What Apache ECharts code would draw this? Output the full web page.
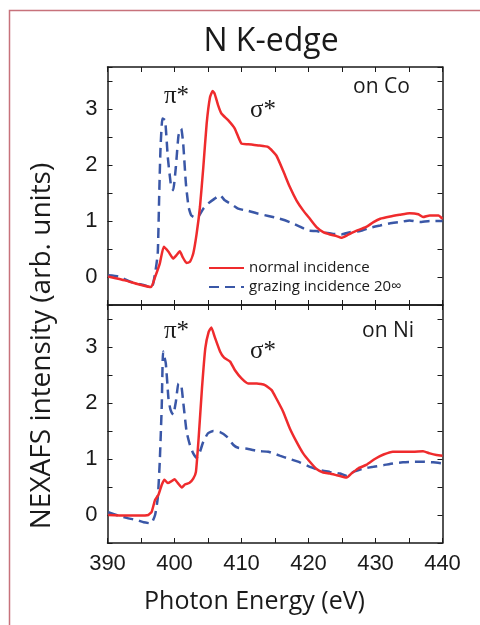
<!DOCTYPE html>
<html>
<head>
<meta charset="utf-8">
<script src="https://cdn.jsdelivr.net/npm/echarts@6/dist/echarts.min.js"></script>
<style>
html,body{margin:0;padding:0;background:#fff;}
#chart{width:480px;height:625px;}
</style>
</head>
<body>
<div id="chart"></div>
<script>
// ---- data ----
const xTicks = [390, 400, 410, 420, 430, 440];
const yTicks = [0, 1, 2, 3];

// on Co, normal incidence
const coNormalE = [390.1,392.6,394.6,396.5,397.1,397.8,398.4,399.1,399.8,400.3,400.8,401.2,401.8,402.3,402.8,403.3,403.8,404.3,404.8,405.3,405.7,406.0,406.5,407.0,408.0,409.0,410.0,411.0,412.5,414.0,415.2,416.2,417.2,418.2,419.2,420.2,421.2,422.2,423.2,424.2,424.9,425.7,426.7,427.7,428.7,429.7,430.7,432.2,433.6,435.1,436.4,437.1,438.1,439.4,440.0];
const coNormalI = [0.01,-0.06,-0.13,-0.18,0.0,0.24,0.54,0.45,0.33,0.39,0.46,0.36,0.25,0.27,0.42,0.77,1.25,1.96,2.74,3.21,3.32,3.27,3.07,2.92,2.80,2.65,2.38,2.37,2.35,2.32,2.17,1.90,1.61,1.37,1.19,1.04,0.89,0.80,0.76,0.73,0.70,0.74,0.80,0.85,0.90,0.98,1.04,1.08,1.11,1.14,1.12,1.07,1.10,1.10,1.04];
// on Co, grazing incidence
const coGrazE = [390.1,391.6,393.6,395.6,396.6,397.1,397.5,397.7,397.9,398.2,398.6,399.0,399.5,399.8,400.2,400.6,401.0,401.3,401.7,402.1,402.5,403.1,403.7,404.3,405.0,406.0,406.8,407.5,408.5,409.5,411.0,412.5,414.0,415.7,417.2,418.7,419.9,421.2,422.4,423.7,424.9,426.2,427.7,429.2,430.7,432.2,433.6,435.1,436.6,438.1,440.0];
const coGrazI = [0.03,0.01,-0.09,-0.15,-0.19,0.06,0.42,1.37,2.26,2.83,2.80,2.14,1.61,1.55,1.96,2.53,2.65,2.38,1.67,1.25,1.10,1.06,1.10,1.22,1.31,1.40,1.46,1.37,1.30,1.22,1.18,1.13,1.09,1.04,0.98,0.90,0.83,0.82,0.79,0.77,0.76,0.80,0.82,0.88,0.92,0.96,0.98,1.01,0.98,1.00,1.00];
// on Ni, normal incidence
const niNormalE = [390.1,392.6,394.6,396.1,396.6,397.1,397.6,398.1,398.5,399.0,399.5,400.0,400.5,401.1,401.6,402.2,402.8,403.2,403.6,404.1,404.6,405.1,405.5,406.0,406.8,407.4,408.3,409.0,410.0,411.0,412.3,413.5,414.5,415.2,416.2,417.2,418.2,419.2,420.2,421.2,422.2,423.2,424.2,425.2,425.7,426.4,427.4,428.7,429.9,431.2,432.6,434.1,435.6,437.1,438.1,439.1,440.0];
const niNormalI = [0.0,-0.01,-0.01,0.0,0.06,0.27,0.36,0.54,0.63,0.57,0.60,0.64,0.57,0.49,0.55,0.57,0.65,0.77,1.37,2.26,2.98,3.27,3.35,3.18,2.92,2.81,2.74,2.59,2.44,2.35,2.35,2.32,2.23,2.08,1.85,1.55,1.31,1.10,0.95,0.82,0.76,0.74,0.71,0.68,0.67,0.74,0.83,0.90,1.00,1.08,1.13,1.13,1.13,1.14,1.10,1.07,1.06];
// on Ni, grazing incidence
const niGrazE = [390.1,391.6,393.1,394.4,395.4,396.5,397.1,397.5,397.8,398.1,398.3,398.7,399.1,399.4,399.8,400.2,400.6,401.0,401.3,401.8,402.3,402.8,403.3,403.8,404.3,405.0,405.8,406.8,407.8,408.8,409.5,411.0,412.5,414.0,415.7,417.2,418.7,420.2,421.7,423.2,424.7,425.7,426.7,428.2,429.7,431.2,432.6,434.1,435.6,437.1,438.6,440.0];
const niGrazI = [0.05,-0.01,-0.06,-0.09,-0.13,-0.15,0.0,0.30,0.95,1.96,2.92,2.71,2.08,1.88,1.79,2.02,2.35,2.32,2.02,1.49,1.25,1.10,1.02,1.13,1.31,1.46,1.50,1.48,1.40,1.25,1.20,1.18,1.14,1.13,1.06,1.00,0.94,0.86,0.80,0.77,0.74,0.70,0.77,0.83,0.86,0.89,0.92,0.94,0.95,0.95,0.94,0.92];

const pairs = (e, v) => e.map((x, i) => [x, v[i]]);

const RED = '#ef2b2d';
const BLUE = '#3a57a7';
const INK = '#1a1a1a';
const SANS = '"Open Sans", "Noto Sans", sans-serif';
const DIGITS = '"Liberation Sans", Arial, sans-serif';
const SERIF = '"Liberation Serif", "DejaVu Serif", serif';

const chart = echarts.init(document.getElementById('chart'), null, {renderer: 'canvas'});

function xAx(grid, pos, labels) {
  return {
    type: 'value', gridIndex: grid, position: pos, min: 390, max: 440, interval: 5,
    axisLine: {show: true, onZero: false, lineStyle: {color: INK, width: 1.5}},
    axisTick: {show: true, inside: true, length: 5, lineStyle: {color: INK, width: 1}},
    axisLabel: {show: labels, margin: 10, color: INK, fontSize: 22, fontFamily: DIGITS,
      formatter: v => (xTicks.indexOf(v) >= 0 ? String(v) : '')},
    splitLine: {show: false}
  };
}
function yAx(grid, pos, labels) {
  return {
    type: 'value', gridIndex: grid, position: pos, min: -0.5, max: 3.75, interval: 0.5,
    axisLine: {show: true, onZero: false, lineStyle: {color: INK, width: 1.5}},
    axisTick: {show: true, inside: true, length: 5, lineStyle: {color: INK, width: 1}},
    axisLabel: {show: labels, margin: 10, color: INK, fontSize: 22, fontFamily: DIGITS,
      formatter: v => (yTicks.indexOf(v) >= 0 ? String(v) : '')},
    splitLine: {show: false}
  };
}

function lineSeries(name, grid, data, color, dashed) {
  return {
    name: name, type: 'line', xAxisIndex: grid * 2, yAxisIndex: grid * 2,
    data: data, symbol: 'none', showSymbol: false, smooth: 0.15, animation: false,
    lineStyle: {color: color, width: 2.5, type: dashed ? [10, 6] : 'solid'},
    itemStyle: {color: color}
  };
}

const option = {
  animation: false,
  backgroundColor: '#fff',
  grid: [
    {left: 107.5, top: 67, width: 335, height: 238},
    {left: 107.5, top: 305, width: 335, height: 238}
  ],
  xAxis: [xAx(0, 'bottom', false), xAx(0, 'top', false), xAx(1, 'bottom', true), xAx(1, 'top', false)],
  yAxis: [yAx(0, 'left', true), yAx(0, 'right', false), yAx(1, 'left', true), yAx(1, 'right', false)],
  legend: {
    orient: 'vertical', left: 208, top: 260, padding: 0, itemWidth: 35, itemHeight: 14, itemGap: 3,
    itemStyle: {opacity: 0},
    textStyle: {color: INK, fontSize: 15, fontFamily: SANS, lineHeight: 16},
    data: ['normal incidence', 'grazing incidence 20∞'],
    selectedMode: false
  },
  series: [
    lineSeries('grazing incidence 20∞', 0, pairs(coGrazE, coGrazI), BLUE, true),
    lineSeries('normal incidence', 0, pairs(coNormalE, coNormalI), RED, false),
    lineSeries('grazing incidence 20∞', 1, pairs(niGrazE, niGrazI), BLUE, true),
    lineSeries('normal incidence', 1, pairs(niNormalE, niNormalI), RED, false)
  ],
  graphic: [
    {type: 'rect', shape: {x: 9.5, y: 10.5, width: 600, height: 800}, silent: true,
     style: {fill: 'none', stroke: '#c7727b', lineWidth: 1.5}, z: 100},
    {type: 'text', x: 271, y: 41.5, style: {text: 'N K-edge', fill: INK, font: '32px ' + SANS, textAlign: 'center', textVerticalAlign: 'middle'}},
    {type: 'text', x: 254.5, y: 602, style: {text: 'Photon Energy (eV)', fill: INK, font: '25px ' + SANS, textAlign: 'center', textVerticalAlign: 'middle'}},
    {type: 'text', x: 42, y: 346, rotation: Math.PI / 2, style: {text: 'NEXAFS intensity (arb. units)', fill: INK, font: '28px ' + SANS, textAlign: 'center', textVerticalAlign: 'middle'}},
    {type: 'text', x: 353, y: 87, style: {text: 'on Co', fill: INK, font: '21px ' + SANS, textAlign: 'left', textVerticalAlign: 'middle'}},
    {type: 'text', x: 362, y: 331, style: {text: 'on Ni', fill: INK, font: '21px ' + SANS, textAlign: 'left', textVerticalAlign: 'middle'}},
    {type: 'text', x: 164, y: 96, style: {text: 'π*', fill: INK, font: '25px ' + SERIF, textAlign: 'left', textVerticalAlign: 'middle'}},
    {type: 'text', x: 250, y: 110, style: {text: 'σ*', fill: INK, font: '25px ' + SERIF, textAlign: 'left', textVerticalAlign: 'middle'}},
    {type: 'text', x: 164, y: 331, style: {text: 'π*', fill: INK, font: '25px ' + SERIF, textAlign: 'left', textVerticalAlign: 'middle'}},
    {type: 'text', x: 250, y: 351, style: {text: 'σ*', fill: INK, font: '25px ' + SERIF, textAlign: 'left', textVerticalAlign: 'middle'}}
  ]
};
chart.setOption(option);
</script>
</body>
</html>
